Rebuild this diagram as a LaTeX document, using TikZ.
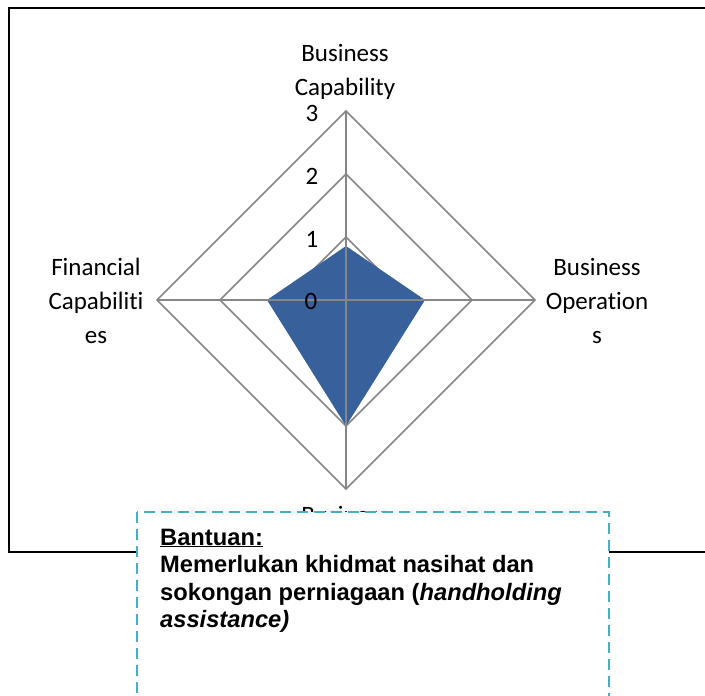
\documentclass[tikz,border=0pt]{standalone}
\usepackage{fontspec}
\setmainfont{Carlito}[Ligatures=NoCommon]
\newfontfamily\notefont{Liberation Sans}
\usetikzlibrary{calc}
\definecolor{gridgray}{RGB}{134,134,134}
\definecolor{chartblue}{RGB}{56,97,155}
\definecolor{notecyan}{RGB}{75,172,198}

\begin{document}
\begin{tikzpicture}[x=1pt,y=-1pt,
  gridline/.style={draw=gridgray,line width=1.6pt},
  axislabel/.style={align=center,font=\fontsize{25}{34}\selectfont},
  ticklabel/.style={font=\fontsize{25}{30}\selectfont,inner sep=0pt},
  noteline/.style={anchor=base west,inner sep=0pt,font=\notefont\bfseries\fontsize{23.7}{27}\selectfont}]
\useasboundingbox (0,0) rectangle (705,696);
% chart frame
\draw[line width=1.8pt] (9,8) rectangle (720,552);
% centre of the radar chart
\coordinate (O) at (346,300);
% rings
\foreach \r in {63,126,189}
  \draw[gridline] ($(O)+(0,-\r)$) -- ($(O)+(\r,0)$) -- ($(O)+(0,\r)$) -- ($(O)+(-\r,0)$) -- cycle;
% data area
\fill[chartblue] ($(O)+(0,-54)$) -- ($(O)+(79,0)$) -- ($(O)+(0,126)$) -- ($(O)+(-79,0)$) -- cycle;
% axes
\draw[gridline] ($(O)+(0,-189)$) -- ($(O)+(0,189)$);
\draw[gridline] ($(O)+(-189,0)$) -- ($(O)+(189,0)$);
% scale values
\node[ticklabel] (t3) at (312,113) {3};
\node[ticklabel] (t2) at (312,176) {2};
\node[ticklabel] (t1) at (312,239) {1};
\node[ticklabel] (t0) at (311,301) {0};
% axis names
\node[axislabel] (capab) at (345,72) {Business\\Capability};
\node[axislabel] (oper) at (597,301) {Business\\Operation\\s};
\node[axislabel] (finan) at (96,301) {Financial\\Capabiliti\\es};
\node[axislabel,anchor=north] (perf) at (345,503) {Business};
% note box
\draw[notecyan,fill=white,line width=2.4pt,dash pattern=on 11pt off 6pt] (137,512) rectangle (609,712);
\node[noteline] (bantuan) at (160,545) {\underline{Bantuan:}};
\node[noteline] (line1) at (160,572) {Memerlukan khidmat nasihat dan};
\node[noteline] (line2) at (160,600) {sokongan perniagaan (\textit{handholding}};
\node[noteline] (line3) at (160,627) {\textit{assistance)}};
\end{tikzpicture}
\end{document}
